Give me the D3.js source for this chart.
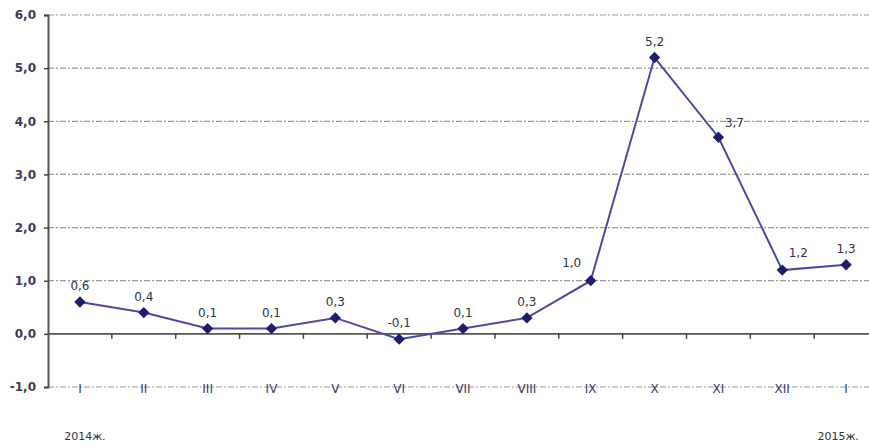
<!DOCTYPE html>
<html>
<head>
<meta charset="utf-8">
<script src="https://d3js.org/d3.v7.min.js"></script>
<style>
  body { margin: 0; background: #fff; }
  text { font-family: "DejaVu Sans", Verdana, sans-serif; }
</style>
</head>
<body>
<div id="chart"></div>
<script>
var months = ["I", "II", "III", "IV", "V", "VI", "VII", "VIII", "IX", "X", "XI", "XII", "I"];
var values = [0.6, 0.4, 0.1, 0.1, 0.3, -0.1, 0.1, 0.3, 1.0, 5.2, 3.7, 1.2, 1.3];
var yTicks = [-1, 0, 1, 2, 3, 4, 5, 6];
var yearLabels = ["2014ж.", "2015ж."];

var width = 869, height = 443;
var left = 48, step = 63.85;

var svg = d3.select("#chart").append("svg")
    .attr("width", width)
    .attr("height", height);

var x = d3.scaleBand()
    .domain(d3.range(months.length))
    .range([left, left + step * months.length])
    .paddingInner(0).paddingOuter(0);

var y = d3.scaleLinear()
    .domain([-1, 6])
    .range([387, 15]);

var fmt = function (v) { return d3.format(".1f")(v).replace(".", ",").replace("−", "-"); };

// gridlines
svg.append("g")
    .selectAll("line")
    .data(yTicks.filter(function (d) { return d !== 0; }))
    .enter().append("line")
    .attr("x1", left)
    .attr("x2", width)
    .attr("y1", function (d) { return y(d); })
    .attr("y2", function (d) { return y(d); })
    .attr("stroke", "#9a9a9a")
    .attr("stroke-width", 1.2)
    .attr("stroke-dasharray", "6,2,2,2");

// y axis
var yAxis = svg.append("g")
    .attr("transform", "translate(" + left + ",0)")
    .call(d3.axisLeft(y).tickValues(yTicks).tickSize(4).tickFormat(fmt));
yAxis.select(".domain").attr("stroke", "#555").attr("stroke-width", 2);
yAxis.selectAll(".tick line").attr("stroke", "#444").attr("stroke-width", 1.5);
yAxis.selectAll(".tick text")
    .attr("x", -12)
    .style("font-size", "12px")
    .style("font-weight", "bold")
    .attr("fill", "#3a3a5a");

// zero line with ticks at category boundaries
svg.append("line")
    .attr("x1", left).attr("x2", width)
    .attr("y1", y(0)).attr("y2", y(0))
    .attr("stroke", "#555").attr("stroke-width", 1.8);
svg.append("g")
    .selectAll("line")
    .data(d3.range(1, months.length))
    .enter().append("line")
    .attr("x1", function (d) { return x(d); })
    .attr("x2", function (d) { return x(d); })
    .attr("y1", y(0)).attr("y2", y(0) + 5)
    .attr("stroke", "#444").attr("stroke-width", 1.5);

// category labels
svg.append("g")
    .selectAll("text")
    .data(months)
    .enter().append("text")
    .attr("x", function (d, i) { return x(i) + x.bandwidth() / 2; })
    .attr("y", y(-1) + 6)
    .attr("text-anchor", "middle")
    .style("font-size", "12px")
    .attr("fill", "#3a3a66")
    .text(function (d) { return d; });

// year labels
svg.append("text")
    .attr("x", x(0) + x.bandwidth() / 2 + 5)
    .attr("y", 440)
    .attr("text-anchor", "middle")
    .style("font-size", "11px")
    .attr("fill", "#333")
    .text(yearLabels[0]);
svg.append("text")
    .attr("x", x(12) + x.bandwidth() / 2 - 8)
    .attr("y", 440)
    .attr("text-anchor", "middle")
    .style("font-size", "11px")
    .attr("fill", "#333")
    .text(yearLabels[1]);

// line
var cx = function (i) { return x(i) + x.bandwidth() / 2; };
svg.append("path")
    .datum(values)
    .attr("fill", "none")
    .attr("stroke", "#4a4aa6")
    .attr("stroke-width", 2)
    .attr("d", d3.line()
        .x(function (d, i) { return cx(i); })
        .y(function (d) { return y(d); }));

// markers
svg.append("g")
    .selectAll("path")
    .data(values)
    .enter().append("path")
    .attr("transform", function (d, i) { return "translate(" + cx(i) + "," + y(d) + ") rotate(45)"; })
    .attr("d", "M-4,-4L4,-4L4,4L-4,4Z")
    .attr("fill", "#1e1e6e");

// data labels
svg.append("g")
    .selectAll("text")
    .data(values)
    .enter().append("text")
    .attr("x", function (d, i) {
        if (i === 8) return cx(i) - 19;
        if (i === 10 || i === 11) return cx(i) + 16;
        return cx(i);
    })
    .attr("y", function (d, i) {
        if (i === 8) return y(d) - 14;
        if (i === 10) return y(d) - 10;
        if (i === 11) return y(d) - 13;
        return y(d) - 12;
    })
    .attr("text-anchor", "middle")
    .style("font-size", "12px")
    .attr("fill", "#333344")
    .text(function (d) { return fmt(d); });
</script>
</body>
</html>
